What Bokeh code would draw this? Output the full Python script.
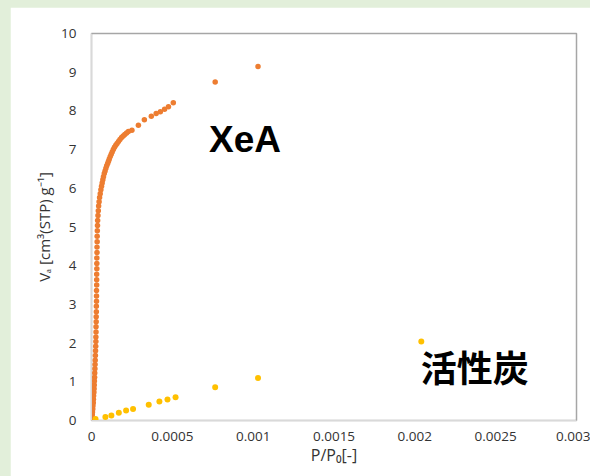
from bokeh.plotting import figure
from bokeh.models import Range1d, FixedTicker, Label, ColumnDataSource
from bokeh.layouts import column
from bokeh.embed import file_html
from bokeh.resources import INLINE

# --- data ---
xea_x = [2, 3, 5, 6, 8, 9, 11, 12, 13, 15, 16, 17, 18, 19, 20, 21, 22, 23, 24, 25,
         26, 27, 27, 28, 28, 29, 29, 30, 30, 31, 31, 31, 32, 32, 32, 33, 33, 33, 34, 34,
         35, 35, 36, 37, 38, 40, 42, 44, 47, 50, 54, 58, 62, 66, 70, 74, 79, 84, 89, 94,
         100, 105, 110, 116, 122, 128, 135, 142, 150, 158, 167, 176, 186, 196, 206, 217,
         228, 250, 290, 327, 370, 400, 426, 452, 476, 506, 765, 1030]
xea_y = [0.02, 0.08, 0.15, 0.22, 0.30, 0.38, 0.46, 0.55, 0.64, 0.73, 0.82, 0.92, 1.02, 1.12,
         1.23, 1.34, 1.45, 1.56, 1.68, 1.80, 1.92, 2.04, 2.16, 2.29, 2.42, 2.55, 2.68, 2.81,
         2.95, 3.08, 3.22, 3.36, 3.50, 3.64, 3.78, 3.92, 4.06, 4.20, 4.34, 4.48, 4.62, 4.76,
         4.90, 5.04, 5.17, 5.30, 5.42, 5.54, 5.65, 5.76, 5.86, 5.96, 6.05, 6.14, 6.22, 6.30,
         6.38, 6.45, 6.52, 6.58, 6.64, 6.70, 6.76, 6.82, 6.88, 6.94, 7.00, 7.06, 7.11, 7.16,
         7.21, 7.26, 7.31, 7.35, 7.39, 7.43, 7.47, 7.50, 7.63, 7.77, 7.86, 7.93, 7.98, 8.04,
         8.11, 8.21, 8.75, 9.15]
ac_x = [25, 86, 123, 169, 214, 257, 354, 420, 470, 520, 765, 1030, 2040]
ac_y = [0.04, 0.09, 0.13, 0.20, 0.26, 0.30, 0.41, 0.49, 0.54, 0.60, 0.86, 1.10, 2.04]

x_ticks = [0, 0.0005, 0.001, 0.0015, 0.002, 0.0025, 0.003]
x_tick_labels = ["0", "0.0005", "0.001", "0.0015", "0.002", "0.0025", "0.003"]
y_ticks = [0, 1, 2, 3, 4, 5, 6, 7, 8, 9, 10]

series_names = ["XeA", "活性炭"]

xea_src = ColumnDataSource(dict(x=[v * 1e-6 for v in xea_x], y=xea_y))
ac_src = ColumnDataSource(dict(x=[v * 1e-6 for v in ac_x], y=ac_y))

p = figure(width=580, height=469, output_backend="svg", toolbar_location=None,
           x_range=Range1d(0, 0.003), y_range=Range1d(0, 10),
           min_border_left=81, min_border_right=14, min_border_top=26, min_border_bottom=56,
           margin=(7, 0, 0, 10))
p.border_fill_color = "white"
p.background_fill_color = "white"
p.outline_line_color = "#a6a6a6"
p.outline_line_width = 1.5
p.xgrid.visible = False
p.ygrid.visible = False

tick_font = "Open Sans"
for ax in (p.xaxis[0], p.yaxis[0]):
    ax.axis_line_color = "#d9d9d9"
    ax.major_tick_line_color = None
    ax.minor_tick_line_color = None
    ax.major_tick_out = 0
    ax.major_tick_in = 0
    ax.major_label_text_font = tick_font
    ax.major_label_text_font_size = "13.5px"
    ax.major_label_text_color = "#333333"
    ax.axis_label_text_font = tick_font
    ax.axis_label_text_font_style = "normal"
    ax.axis_label_text_color = "#333333"

p.xaxis.ticker = FixedTicker(ticks=x_ticks)
p.xaxis.major_label_overrides = {t: l for t, l in zip(x_ticks, x_tick_labels)}
p.xaxis.major_label_standoff = 11
p.xaxis.axis_label = "P/P₀[-]"
p.xaxis.axis_label_standoff = 0
p.xaxis.axis_label_text_font_size = "16px"

p.yaxis.ticker = FixedTicker(ticks=y_ticks)
p.yaxis.major_label_standoff = 15
p.yaxis.axis_label = "Vₐ [cm³(STP) g⁻¹]"
p.yaxis.axis_label_standoff = 4
p.yaxis.axis_label_text_font_size = "15px"

p.scatter("x", "y", source=xea_src, size=5.5, fill_color="#ED7D31", line_color=None)
p.scatter("x", "y", source=ac_src, size=6, fill_color="#FFC000", line_color=None)

p.add_layout(Label(x=0.00095, y=7.26, text=series_names[0], text_align="center",
                   text_baseline="middle", text_font="Liberation Sans",
                   text_font_style="bold", text_font_size="37px", text_color="black"))
p.add_layout(Label(x=0.00237, y=1.40, text=series_names[1], text_align="center",
                   text_baseline="middle", text_font="Noto Sans CJK JP",
                   text_font_style="bold", text_font_size="36px", text_color="black"))

layout = column(p, styles={"background-color": "#e2efda"})

open("out.html", "w").write(file_html(layout, INLINE))
